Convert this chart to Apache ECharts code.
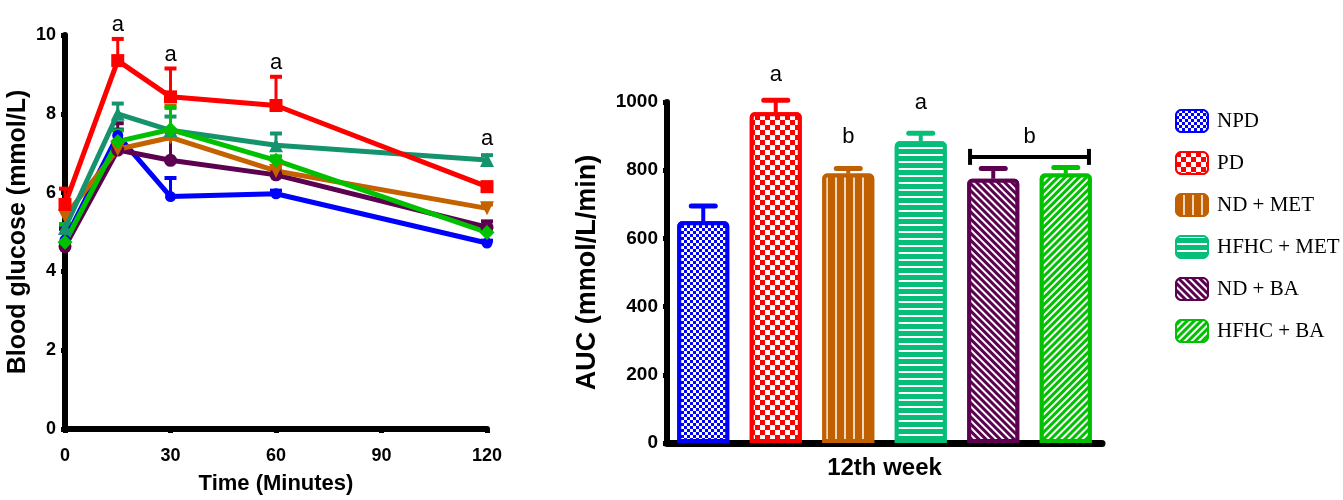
<!DOCTYPE html>
<html>
<head>
<meta charset="utf-8">
<title>OGTT and AUC</title>
<script src="https://cdn.jsdelivr.net/npm/echarts@6.0.0/dist/echarts.min.js"></script>
<style>
html, body { margin: 0; padding: 0; background: #fff; }
#chart { width: 1343px; height: 500px; }
</style>
</head>
<body>
<div id="chart"></div>
<script>
// groups
var groups = ['NPD', 'PD', 'ND + MET', 'HFHC + MET', 'ND + BA', 'HFHC + BA'];

// OGTT time points (minutes)
var times = [0, 15, 30, 60, 120];

// blood glucose (mmol/L) per group
var glucoseNPD     = [4.80, 7.45, 5.90, 5.97, 4.72];
var glucosePD      = [5.70, 9.35, 8.43, 8.21, 6.15];
var glucoseNDMET   = [5.40, 7.10, 7.40, 6.55, 5.60];
var glucoseHFHCMET = [5.10, 8.00, 7.58, 7.20, 6.83];
var glucoseNDBA    = [4.63, 7.08, 6.82, 6.45, 5.12];
var glucoseHFHCBA  = [4.74, 7.30, 7.60, 6.82, 4.99];

// upper error (SEM)
var semNPD     = [0.30, 0.15, 0.47, 0.08, 0.06];
var semPD      = [0.40, 0.55, 0.72, 0.73, 0.10];
var semNDMET   = [0.20, 0.20, 0.80, 0.10, 0.10];
var semHFHCMET = [0.10, 0.26, 0.35, 0.30, 0.12];
var semNDBA    = [0.45, 0.68, 0.56, 0.10, 0.15];
var semHFHCBA  = [0.45, 0.28, 0.55, 0.10, 0.10];

// significance letters on the OGTT plot
var ogttSigTimes = [15, 30, 60, 120];
var ogttSigY     = [10.25, 9.5, 9.3, 7.35];
var ogttSigText  = ['a', 'a', 'a', 'a'];

// AUC (mmol/L/min) at 12th week
var aucValues = [650, 970, 790, 885, 775, 790];
var aucErr    = [45, 35, 15, 23, 30, 18];
var aucSigY    = [null, 1079, 897, 997, null, null];
var aucSigText = ['', 'a', 'b', 'a', '', ''];
// bracket across ND + BA and HFHC + BA
var bracketFrom = 4, bracketTo = 5, bracketY = 839, bracketText = 'b';

var glucose = [glucoseNPD, glucosePD, glucoseNDMET, glucoseHFHCMET, glucoseNDBA, glucoseHFHCBA];
var sem = [semNPD, semPD, semNDMET, semHFHCMET, semNDBA, semHFHCBA];

var lineColors = ['#0000ff', '#ff0000', '#c46200', '#15936c', '#5c0050', '#00c000'];
var barColors  = ['#0000ff', '#ff0000', '#c06000', '#07be78', '#5c0050', '#00c000'];
var symbols = ['circle', 'rect', 'triangle', 'triangle', 'circle', 'diamond'];
var symbolRotates = [0, 0, 180, 0, 0, 0];
var symbolSizes = [11, 13, 14, 14, 13, 15];
var drawOrder = [0, 4, 2, 3, 1, 5];

var decals = [
    { symbol: 'rect', symbolSize: 1, color: '#fff', dashArrayX: [[3, 3], [0, 3, 3, 0]], dashArrayY: [3, 0] },
    { symbol: 'rect', symbolSize: 1, color: '#fff', dashArrayX: [[5, 5], [0, 5, 5, 0]], dashArrayY: [5, 0] },
    { symbol: 'rect', symbolSize: 1, color: 'rgba(255,255,255,0.75)', dashArrayX: [1, 0], dashArrayY: [1.5, 7], rotation: Math.PI / 2 },
    { symbol: 'rect', symbolSize: 1, color: '#fff', dashArrayX: [1, 0], dashArrayY: [1.5, 5], rotation: 0 },
    { symbol: 'rect', symbolSize: 1, color: '#fff', dashArrayX: [1, 0], dashArrayY: [1.2, 3], rotation: Math.PI / 4 },
    { symbol: 'rect', symbolSize: 1, color: '#fff', dashArrayX: [1, 0], dashArrayY: [1.2, 3], rotation: -Math.PI / 4 }
];

var boldFont = { fontFamily: 'Liberation Sans', fontWeight: 'bold', color: '#000' };
function font(extra) { return Object.assign({}, boldFont, extra); }

var myChart = echarts.init(document.getElementById('chart'));

var series = [];

// error bars on OGTT curves
drawOrder.forEach(function (g) {
    series.push({
        name: groups[g] + ' SEM',
        type: 'custom',
        xAxisIndex: 0, yAxisIndex: 0,
        z: 2,
        clip: false,
        data: times.map(function (t, k) { return [t, glucose[g][k], sem[g][k]]; }),
        renderItem: function (params, api) {
            var p0 = api.coord([api.value(0), api.value(1)]);
            var p1 = api.coord([api.value(0), api.value(1) + api.value(2)]);
            return {
                type: 'group',
                children: [
                    { type: 'line', shape: { x1: p0[0], y1: p0[1], x2: p1[0], y2: p1[1] }, style: { stroke: lineColors[g], lineWidth: 3 } },
                    { type: 'line', shape: { x1: p1[0] - 6, y1: p1[1], x2: p1[0] + 6, y2: p1[1] }, style: { stroke: lineColors[g], lineWidth: 4 } }
                ]
            };
        }
    });
});

// OGTT curves
drawOrder.forEach(function (g) {
    series.push({
        name: groups[g] + ' OGTT',
        type: 'line',
        xAxisIndex: 0, yAxisIndex: 0,
        z: 3,
        data: times.map(function (t, k) { return [t, glucose[g][k]]; }),
        symbol: symbols[g],
        symbolRotate: symbolRotates[g],
        symbolSize: symbolSizes[g],
        showAllSymbol: true,
        lineStyle: { color: lineColors[g], width: 5 },
        itemStyle: { color: lineColors[g] },
        emphasis: { disabled: true }
    });
});

// letters on OGTT plot
series.push({
    type: 'custom',
    xAxisIndex: 0, yAxisIndex: 0,
    clip: false,
    z: 5,
    data: ogttSigTimes.map(function (t, k) { return [t, ogttSigY[k]]; }),
    renderItem: function (params, api) {
        var p = api.coord([api.value(0), api.value(1)]);
        return {
            type: 'text', x: p[0], y: p[1],
            style: { text: ogttSigText[params.dataIndex], fontFamily: 'Liberation Sans', fontSize: 22, fill: '#000', align: 'center', verticalAlign: 'middle' }
        };
    }
});

// AUC bars
groups.forEach(function (name, g) {
    series.push({
        name: name,
        type: 'bar',
        xAxisIndex: 1, yAxisIndex: 1,
        barWidth: 52,
        barGap: '-100%',
        data: groups.map(function (c, j) { return j === g ? aucValues[g] : '-'; }),
        itemStyle: {
            color: barColors[g],
            borderColor: barColors[g],
            borderWidth: 4,
            borderRadius: [3, 3, 0, 0],
            decal: decals[g]
        },
        emphasis: { disabled: true }
    });
});

// AUC error bars
series.push({
    type: 'custom',
    xAxisIndex: 1, yAxisIndex: 1,
    clip: false,
    z: 1,
    data: aucValues.map(function (v, k) { return [k, v, aucErr[k]]; }),
    renderItem: function (params, api) {
        var p0 = api.coord([api.value(0), api.value(1)]);
        var p1 = api.coord([api.value(0), api.value(1) + api.value(2)]);
        var c = barColors[params.dataIndex];
        return {
            type: 'group',
            children: [
                { type: 'line', shape: { x1: p0[0], y1: p0[1], x2: p1[0], y2: p1[1] }, style: { stroke: c, lineWidth: 4 } },
                { type: 'line', shape: { x1: p1[0] - 12, y1: p1[1], x2: p1[0] + 12, y2: p1[1] }, style: { stroke: c, lineWidth: 5, lineCap: 'round' } }
            ]
        };
    }
});

// AUC letters
series.push({
    type: 'custom',
    xAxisIndex: 1, yAxisIndex: 1,
    clip: false,
    z: 5,
    data: aucValues.map(function (v, k) { return [k, aucSigY[k] == null ? 0 : aucSigY[k]]; }),
    renderItem: function (params, api) {
        var txt = aucSigText[params.dataIndex];
        if (!txt) return null;
        var p = api.coord([api.value(0), api.value(1)]);
        return {
            type: 'text', x: p[0], y: p[1],
            style: { text: txt, fontFamily: 'Liberation Sans', fontSize: 22, fill: '#000', align: 'center', verticalAlign: 'middle' }
        };
    }
});

// bracket
series.push({
    type: 'custom',
    xAxisIndex: 1, yAxisIndex: 1,
    clip: false,
    z: 5,
    data: [[bracketFrom, bracketTo, bracketY]],
    renderItem: function (params, api) {
        var bw = api.size([1, 0])[0];
        var a = api.coord([api.value(0), api.value(2)]);
        var b = api.coord([api.value(1), api.value(2)]);
        var x1 = a[0] - bw * 0.32, x2 = b[0] + bw * 0.32, y = a[1];
        var st = { stroke: '#000', lineWidth: 4 };
        return {
            type: 'group',
            children: [
                { type: 'line', shape: { x1: x1, y1: y, x2: x2, y2: y }, style: st },
                { type: 'line', shape: { x1: x1, y1: y - 8, x2: x1, y2: y + 8 }, style: st },
                { type: 'line', shape: { x1: x2, y1: y - 8, x2: x2, y2: y + 8 }, style: st },
                { type: 'text', x: (x1 + x2) / 2, y: y - 20, style: { text: bracketText, fontFamily: 'Liberation Sans', fontSize: 22, fill: '#000', align: 'center', verticalAlign: 'middle' } }
            ]
        };
    }
});

var option = {
    animation: false,
    backgroundColor: '#fff',
    grid: [
        { left: 65, right: 856, top: 35, bottom: 68 },
        { left: 667, right: 241, top: 102, bottom: 57 }
    ],
    legend: {
        data: groups,
        orient: 'vertical',
        left: 1170,
        top: 104,
        itemWidth: 32,
        itemHeight: 22,
        itemGap: 18,
        icon: 'roundRect',
        selectedMode: false,
        textStyle: { fontFamily: 'Liberation Serif', fontSize: 21, color: '#000', padding: [0, 0, 0, 4] }
    },
    xAxis: [
        {
            gridIndex: 0, type: 'value', min: 0, max: 120, interval: 30,
            name: 'Time (Minutes)', nameLocation: 'middle', nameGap: 44,
            nameTextStyle: font({ fontSize: 22 }),
            axisLine: { lineStyle: { color: '#000', width: 6 } },
            axisTick: { show: true, length: 4, lineStyle: { color: '#000', width: 5 } },
            axisLabel: font({ fontSize: 18, margin: 18 }),
            splitLine: { show: false }
        },
        {
            gridIndex: 1, type: 'category', data: groups,
            name: '12th week', nameLocation: 'middle', nameGap: 13,
            nameTextStyle: font({ fontSize: 24 }),
            axisLine: { lineStyle: { color: '#000', width: 7 } },
            axisTick: { show: false },
            axisLabel: { show: false }
        }
    ],
    yAxis: [
        {
            gridIndex: 0, type: 'value', min: 0, max: 10, interval: 2,
            name: 'Blood glucose (mmol/L)', nameLocation: 'middle', nameGap: 34,
            nameTextStyle: font({ fontSize: 25 }),
            axisLine: { show: true, lineStyle: { color: '#000', width: 6 } },
            axisTick: { show: true, length: 4, lineStyle: { color: '#000', width: 5 } },
            axisLabel: font({ fontSize: 18, margin: 9 }),
            splitLine: { show: false }
        },
        {
            gridIndex: 1, type: 'value', min: 0, max: 1000, interval: 200,
            name: 'AUC (mmol/L/min)', nameLocation: 'middle', nameGap: 66,
            nameTextStyle: font({ fontSize: 27 }),
            axisLine: { show: true, lineStyle: { color: '#000', width: 6 } },
            axisTick: { show: true, length: 4, lineStyle: { color: '#000', width: 5 } },
            axisLabel: font({ fontSize: 19, margin: 9, formatter: function (v) { return String(v); } }),
            splitLine: { show: false }
        }
    ],
    series: series
};

myChart.setOption(option);
</script>
</body>
</html>
